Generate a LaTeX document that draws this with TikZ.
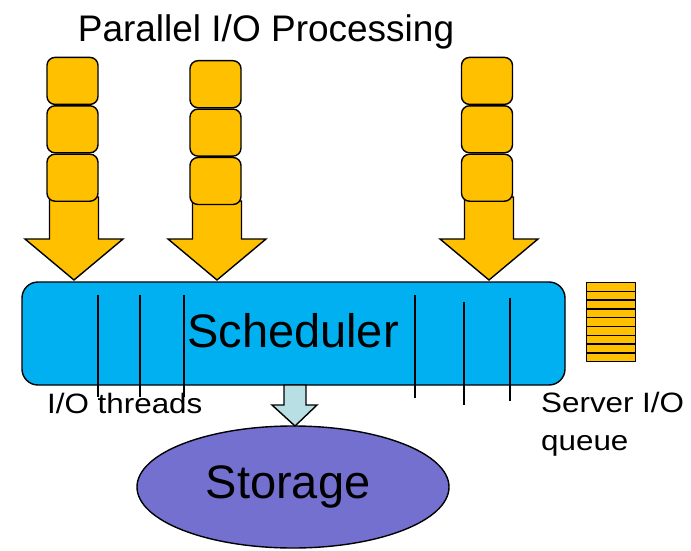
\documentclass[tikz,border=0pt]{standalone}
\usepackage{fontspec}
\setmainfont{Liberation Sans}
\newfontfamily\widesans[FakeStretch=1.12]{Liberation Sans}
\usetikzlibrary{calc,shapes.geometric}
\definecolor{reqorange}{HTML}{FFC000}
\definecolor{schedblue}{HTML}{00B0F0}
\definecolor{storeviolet}{HTML}{7470CF}
\definecolor{flowcyan}{HTML}{B7DFE4}
\tikzset{
  outline/.style={draw=black, line width=1.4pt, line join=round},
  reqbox/.style={outline, fill=reqorange, rectangle, rounded corners=8pt,
    minimum width=51pt, minimum height=47pt, inner sep=0pt},
  bigarrow/.style={outline, fill=reqorange, line join=miter},
  thread/.style={draw=black, line width=1.2pt},
  bigtext/.style={font=\fontsize{47}{56}\selectfont, inner sep=0pt},
  smalltext/.style={font=\widesans\fontsize{28}{34}\selectfont, inner sep=0pt, align=left},
}
\begin{document}
\begin{tikzpicture}[x=1pt, y=-1pt]
\useasboundingbox (0,0) rectangle (691,551);

% title
\node[font=\fontsize{37}{44}\selectfont, inner sep=0pt, anchor=base] (title) at (266,42) {Parallel I/O Processing};

% request streams: arrow body first, stacked requests on top
\foreach \n/\cx/\top/\bx/\by in {a/74/197/72.5/56.7, b/217/201/215.5/60, c/489/197/487/56.7}{
  \draw[bigarrow] (\cx-24.5,\top) -- (\cx+24.5,\top) -- (\cx+24.5,239) -- (\cx+49,239)
    -- (\cx,280) -- (\cx-49,239) -- (\cx-24.5,239) -- cycle;
  \node[reqbox, anchor=north] (\n1) at (\bx,\by) {};
  \node[reqbox, anchor=north] (\n2) at (\n1.south) {};
  \node[reqbox, anchor=north] (\n3) at (\n2.south) {};
}

% scheduler
\node[outline, fill=schedblue, rectangle, rounded corners=16pt, minimum width=543pt,
      minimum height=103pt, inner sep=0pt] (sched) at (293.5,333.5) {};
\node[bigtext] (schedlabel) at (293,331) {Scheduler};

% I/O threads
\foreach \x/\ya/\yb in {98/295/397, 140/295/397, 184/295/397, 415/295/398, 464/302/405, 510/298/401}{
  \draw[thread] (\x,\ya) -- (\x,\yb);
}

% server I/O queue
\foreach \i in {0,...,8}{
  \node[outline, fill=reqorange, rectangle, minimum width=49pt, minimum height=8.8pt,
        inner sep=0pt, anchor=north west] (q\i) at (586,281.7+\i*8.8) {};
}

% storage
\node[outline, fill=storeviolet, ellipse, minimum width=312pt, minimum height=122pt,
      inner sep=0pt] (store) at (293,487) {};
\node[bigtext] (storelabel) at (288,487) {Storage};

% flow from scheduler to storage
\draw[outline, fill=flowcyan, line join=miter] (284,385) -- (306,385) -- (306,405) -- (317,405)
  -- (295,426) -- (272,405) -- (284,405) -- cycle;

% labels
\node[smalltext, anchor=base west] (threadlabel) at (47,413) {I/O threads};
\node[smalltext, anchor=base west] (queuelabel) at (541,412) {Server I/O};
\node[smalltext, anchor=base west] (queuelabel2) at (541,450) {queue};
\end{tikzpicture}
\end{document}
